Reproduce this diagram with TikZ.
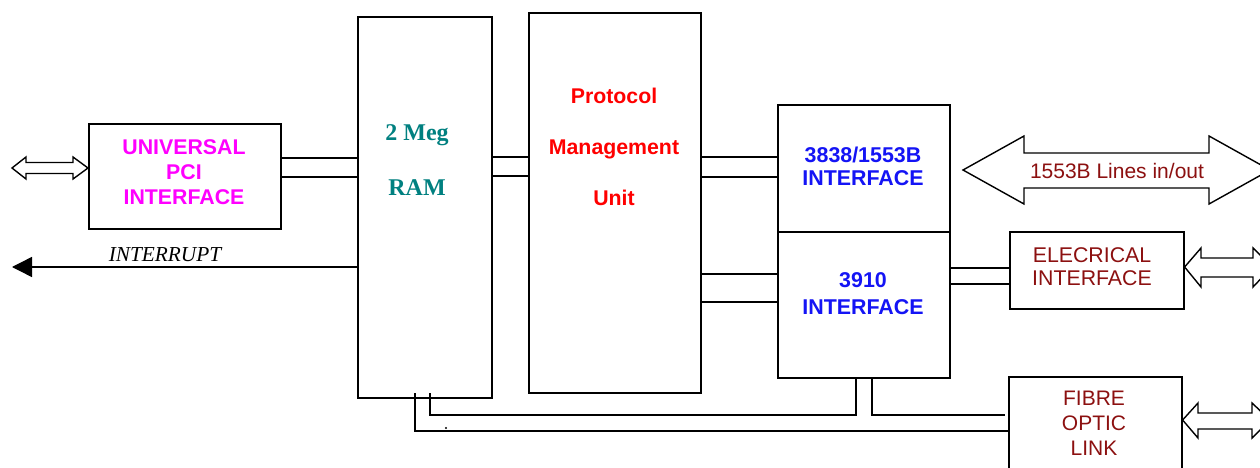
\documentclass[tikz,border=0pt]{standalone}
\usepackage{fontspec}
\setmainfont{Liberation Serif}
\setsansfont{Liberation Sans}
\usetikzlibrary{arrows.meta}
\definecolor{pcimag}{RGB}{255,0,255}
\definecolor{ramteal}{RGB}{0,128,128}
\definecolor{ifblue}{RGB}{20,20,245}
\definecolor{pmured}{RGB}{255,0,0}
\definecolor{darkred}{RGB}{140,16,16}
\begin{document}
\begin{tikzpicture}[x=1pt,y=-1pt,
  box/.style={draw=black,line width=1.6pt,rectangle,inner sep=0pt,anchor=north west},
  wire/.style={draw=black,line width=1.4pt},
  dblarrow/.style={draw=black,line width=1.4pt,fill=white,line join=miter},
  lbl/.style={align=center,inner sep=0pt}]
\clip (0,0) rectangle (1260,468);
\fill[white] (0,0) rectangle (1260,468);

% boxes
\node[box,minimum width=192pt,minimum height=105pt] (pci) at (88,123) {};
\node[box,minimum width=134pt,minimum height=381pt] (ram) at (357,16) {};
\node[box,minimum width=172pt,minimum height=380pt] (pmu) at (528,12) {};
\node[box,minimum width=172pt,minimum height=127pt] (if38) at (777,104) {};
\node[box,minimum width=172pt,minimum height=146pt] (if39) at (777,231) {};
\node[box,minimum width=174pt,minimum height=77pt] (elec) at (1009,231) {};
\node[box,minimum width=173pt,minimum height=120pt] (fibre) at (1008,376) {};

% texts
\node[lbl,text=pcimag,font=\sffamily\bfseries\fontsize{21.3}{25}\selectfont] (tpci) at (184,172) {UNIVERSAL\\PCI\\INTERFACE};
\node[lbl,text=ramteal,font=\rmfamily\bfseries\fontsize{24}{55}\selectfont] (tram) at (417,160) {2 Meg\\RAM};
\node[lbl,text=pmured,font=\sffamily\bfseries\fontsize{21.3}{51}\selectfont] (tpmu) at (614,147) {Protocol\\Management\\Unit};
\node[lbl,text=ifblue,font=\sffamily\bfseries\fontsize{21.4}{23}\selectfont] (t38) at (863,166.5) {3838/1553B\\INTERFACE};
\node[lbl,text=ifblue,font=\sffamily\bfseries\fontsize{21.4}{27}\selectfont] (t39) at (863,293.5) {3910\\INTERFACE};
\node[lbl,text=darkred,font=\sffamily\fontsize{21.3}{23.3}\selectfont] (telec) at (1092,266.5) {ELECRICAL\\INTERFACE};
\node[lbl,text=darkred,font=\sffamily\fontsize{21}{25}\selectfont] (tfib) at (1094,423) {FIBRE\\OPTIC\\LINK};

% big double arrow 1553B
\draw[dblarrow] (963,170) -- (1024,136) -- (1024,153) -- (1209,153) -- (1209,136) -- (1270,170)
  -- (1209,204) -- (1209,188) -- (1024,188) -- (1024,204) -- cycle;
\node[lbl,text=darkred,font=\sffamily\fontsize{21}{25}\selectfont] (t1553) at (1117,171) {1553B Lines in/out};

% PCI side double arrow
\draw[dblarrow] (12,168) -- (26,157) -- (26,162.5) -- (73,162.5) -- (73,157) -- (pci.west |- 0,168)
  -- (73,179) -- (73,173.5) -- (26,173.5) -- (26,179) -- cycle;
% electrical double arrow
\draw[dblarrow] (elec.east |- 0,267) -- (1201,248) -- (1201,258) -- (1253,258) -- (1253,248) -- (1272,267)
  -- (1253,287) -- (1253,277) -- (1201,277) -- (1201,287) -- cycle;
% fibre double arrow
\draw[dblarrow] (fibre.east |- 0,420) -- (1198,403) -- (1198,413) -- (1252,413) -- (1252,403) -- (1270,420)
  -- (1252,438) -- (1252,429) -- (1198,429) -- (1198,438) -- cycle;

% connectors
\draw[wire] (pci.east |- 0,158) -- (ram.west |- 0,158);
\draw[wire] (pci.east |- 0,177) -- (ram.west |- 0,177);
\coordinate (intend) at (12,267);
\draw[wire,-{Triangle[length=20pt,width=20pt]}] (ram.west |- 0,267) -- (intend);
\node[font=\rmfamily\itshape\fontsize{21.3}{24}\selectfont,inner sep=0pt] (tint) at (165,255) {INTERRUPT};

\draw[wire] (ram.east |- 0,157) -- ([xshift=2pt]pmu.west |- 0,157);
\draw[wire] (ram.east |- 0,176) -- ([xshift=2pt]pmu.west |- 0,176);
\draw[wire] (pmu.east |- 0,157) -- (if38.west |- 0,157);
\draw[wire] (pmu.east |- 0,177) -- (if38.west |- 0,177);
\draw[wire] (pmu.east |- 0,274) -- (if39.west |- 0,274);
\draw[wire] (pmu.east |- 0,302) -- (if39.west |- 0,302);
\draw[wire] (if39.east |- 0,268) -- (elec.west |- 0,268);
\draw[wire] (if39.east |- 0,284) -- (elec.west |- 0,284);

% bottom bus lines
\coordinate (b1) at (415,393);
\coordinate (b2) at (430,393);
\coordinate (b3) at (1005,415);
\draw[wire] (b1) -- (415,431) -- (fibre.west |- 0,431);
\draw[wire] (b2) -- (430,415) -- (856,415) -- (if39.south -| 856,0);
\draw[wire] (if39.south -| 872,0) -- (872,415) -- (b3);
\fill[black] (446,428) circle (1.1pt);
\end{tikzpicture}
\end{document}
